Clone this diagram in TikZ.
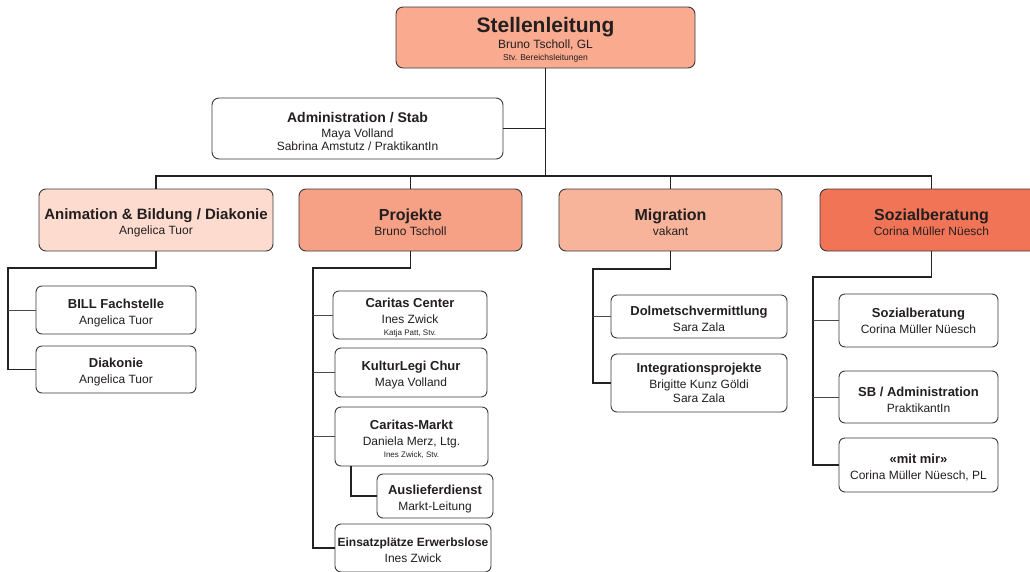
\documentclass[tikz,border=0pt]{standalone}
\usepackage{fontspec}
\setmainfont{Liberation Sans}
\definecolor{bordc}{HTML}{3A3A3A}
\definecolor{txt}{HTML}{231F20}
\definecolor{linec}{HTML}{222222}
\definecolor{subline}{HTML}{4A4A4A}
\definecolor{ctop}{HTML}{F9AA8F}
\definecolor{canim}{HTML}{FDDCCF}
\definecolor{cproj}{HTML}{F6A085}
\definecolor{cmigr}{HTML}{F8B49B}
\definecolor{csoz}{HTML}{F27456}
\newcommand{\Ttl}[2]{{\fontsize{#1}{#1}\selectfont\bfseries\rule{0pt}{\dimexpr 0.73\dimexpr#1pt\relax+5pt\relax}#2}}
\newcommand{\Nm}[1]{{\fontsize{12}{12}\selectfont #1}}
\newcommand{\Sm}[1]{{\fontsize{8}{8}\selectfont #1}}
\tikzset{
  box/.style={draw=bordc, line width=0.9pt, rounded corners=7pt, align=center,
    inner sep=0pt, text=txt, fill=white, font=\fontsize{12}{15}\selectfont},
  subbox/.style={box, rounded corners=6pt},
  conn/.style={draw=linec, line width=1.2pt},
  subconn/.style={draw=subline, line width=0.9pt},
}
\begin{document}
\begin{tikzpicture}[x=1pt,y=-1pt]
\useasboundingbox (0,0) rectangle (1030,571);
\clip (0,0) rectangle (1030,571);
% top
\node[box, fill=ctop, minimum width=299pt, minimum height=61pt] (top) at (545.5,37.5)
  {\Ttl{21}{Stellenleitung}\\[1pt]\Nm{Bruno Tscholl, GL}\\[-3pt]{\fontsize{8.5}{9}\selectfont Stv. Bereichsleitungen}};
\node[box, minimum width=291pt, minimum height=61pt] (adm) at (357.5,128.5)
  {\Ttl{14}{Administration / Stab}\\[0pt]\Nm{Maya Volland}\\[-2pt]\Nm{Sabrina Amstutz / PraktikantIn}};
% departments
\node[box, fill=canim, minimum width=234pt, minimum height=62pt] (anim) at (156,220)
  {\Ttl{15}{Animation \& Bildung / Diakonie}\\[0pt]\Nm{Angelica Tuor}};
\node[box, fill=cproj, minimum width=223pt, minimum height=62pt] (proj) at (410.5,220)
  {\Ttl{16}{Projekte}\\[0pt]\Nm{Bruno Tscholl}};
\node[box, fill=cmigr, minimum width=223pt, minimum height=62pt] (migr) at (670.5,220)
  {\Ttl{16}{Migration}\\[0pt]\Nm{vakant}};
\node[box, fill=csoz, minimum width=223pt, minimum height=62pt] (soz) at (931.5,220)
  {\Ttl{16}{Sozialberatung}\\[0pt]\Nm{Corina Müller Nüesch}};
% anim subtree
\node[subbox, minimum width=160pt, minimum height=48pt] (bill) at (116,310)
  {\Ttl{13}{BILL Fachstelle}\\[1pt]\Nm{Angelica Tuor}};
\node[subbox, minimum width=160pt, minimum height=47pt] (dia) at (116,369.5)
  {\Ttl{13}{Diakonie}\\[1pt]\Nm{Angelica Tuor}};
% projekte subtree
\node[subbox, minimum width=154pt, minimum height=48pt] (cc) at (410,315)
  {\Ttl{13}{Caritas Center}\\[1pt]\Nm{Ines Zwick}\\[-3pt]\Sm{Katja Patt, Stv.}};
\node[subbox, minimum width=152pt, minimum height=49pt] (kl) at (411,372.5)
  {\Ttl{13}{KulturLegi Chur}\\[1pt]\Nm{Maya Volland}};
\node[subbox, minimum width=153pt, minimum height=59pt] (cm) at (411.5,436.5)
  {\Ttl{13}{Caritas-Markt}\\[1pt]\Nm{Daniela Merz, Ltg.}\\[-3pt]\Sm{Ines Zwick, Stv.}};
\node[subbox, minimum width=116pt, minimum height=44pt] (aus) at (435,496)
  {\Ttl{13}{Auslieferdienst}\\[1pt]\Nm{Markt-Leitung}};
\node[subbox, minimum width=156pt, minimum height=48pt] (eins) at (413,548)
  {\Ttl{12}{Einsatzplätze Erwerbslose}\\[1pt]\Nm{Ines Zwick}};
% migration subtree
\node[subbox, minimum width=176pt, minimum height=43pt] (dol) at (699,316.5)
  {\Ttl{13}{Dolmetschvermittlung}\\[1pt]\Nm{Sara Zala}};
\node[subbox, minimum width=176pt, minimum height=58pt] (int) at (699,383)
  {{\fontsize{13}{13}\selectfont\bfseries Integrationsprojekte}\\[1pt]\Nm{Brigitte Kunz Göldi}\\[-1pt]\Nm{Sara Zala}};
% sozial subtree
\node[subbox, minimum width=159pt, minimum height=53pt] (ss) at (918.5,320.5)
  {{\fontsize{13}{13}\selectfont\bfseries\rule{0pt}{11pt}Sozialberatung}\\[1pt]\Nm{Corina Müller Nüesch}};
\node[subbox, minimum width=159pt, minimum height=52pt] (sba) at (918.5,397)
  {\Ttl{13}{SB / Administration}\\[1pt]\Nm{PraktikantIn}};
\node[subbox, minimum width=159pt, minimum height=54pt] (mm) at (918.5,465)
  {\Ttl{13}{«mit mir»}\\[1pt]\Nm{Corina Müller Nüesch, PL}};
% connector coordinates
\coordinate (bus) at (545.5,176);
\coordinate (aT) at (8,268);
\coordinate (pT) at (313,268);
\coordinate (mT) at (593,269);
\coordinate (sT) at (813,277);
\coordinate (cmT) at (351,466);
% main connectors
\draw[conn] (top.south) -- (bus);
\draw[conn] (adm.east) -- (adm.east -| bus);
\draw[conn] (anim.north) |- (bus) -| (soz.north);
\draw[conn] (proj.north) -- (proj.north |- bus);
\draw[conn] (migr.north) -- (migr.north |- bus);
% subtree trunks
\draw[conn] (anim.south) |- (aT) -- (aT |- dia.west) -- (dia.west);
\draw[subconn] (aT |- bill.west) -- (bill.west);
\draw[conn] (proj.south) |- (pT) -- (pT |- eins.west) -- (eins.west);
\draw[subconn] (pT |- cc.west) -- (cc.west);
\draw[subconn] (pT |- kl.west) -- (kl.west);
\draw[subconn] (pT |- cm.west) -- (cm.west);
\draw[conn] (cmT) |- (aus.west);
\draw[conn] (migr.south) |- (mT) -- (mT |- int.west) -- (int.west);
\draw[subconn] (mT |- dol.west) -- (dol.west);
\draw[conn] (soz.south) |- (sT) -- (sT |- mm.west) -- (mm.west);
\draw[subconn] (sT |- ss.west) -- (ss.west);
\draw[subconn] (sT |- sba.west) -- (sba.west);
\end{tikzpicture}
\end{document}
